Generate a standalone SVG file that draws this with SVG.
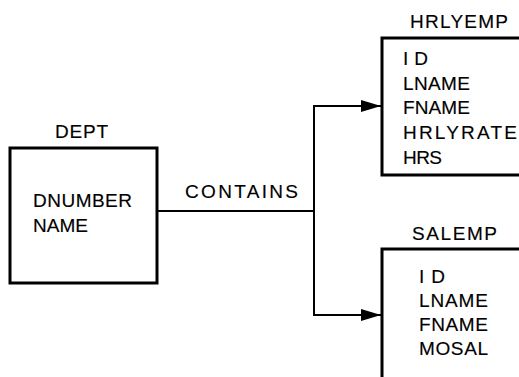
<svg xmlns="http://www.w3.org/2000/svg" width="519" height="377" viewBox="0 0 519 377">
<style>
text{font-family:"Liberation Sans",Arial,sans-serif;font-size:19px;fill:#000;stroke:#000;stroke-width:0.15}
.box{fill:#fff;stroke:#000;stroke-width:3}
.conn{fill:none;stroke:#000;stroke-width:2}
</style>
<defs>
<marker id="arr" markerUnits="userSpaceOnUse" markerWidth="22" markerHeight="14" refX="20" refY="7" orient="auto">
<path d="M0,1 L20,7 L0,13 Z" fill="#000"/>
</marker>
</defs>
<rect width="519" height="377" fill="#fff"/>
<g id="connectors">
<path class="conn" d="M157,211 H314"/>
<path class="conn" d="M314,211 V106 H381" marker-end="url(#arr)"/>
<path class="conn" d="M314,211 V315 H381" marker-end="url(#arr)"/>
<text x="185" y="198" textLength="113" lengthAdjust="spacing">CONTAINS</text>
</g>
<g id="dept">
<rect class="box" x="10" y="148" width="147" height="135"/>
<text x="55" y="138" textLength="53" lengthAdjust="spacing">DEPT</text>
<text x="33" y="207" textLength="99" lengthAdjust="spacing">DNUMBER</text>
<text x="33" y="232" textLength="55" lengthAdjust="spacing">NAME</text>
</g>
<g id="hrlyemp">
<rect class="box" x="382" y="38" width="150" height="137"/>
<text x="410" y="28" textLength="98" lengthAdjust="spacing">HRLYEMP</text>
<text x="403" y="65" textLength="25" lengthAdjust="spacing">ID</text>
<text x="403" y="90" textLength="67" lengthAdjust="spacing">LNAME</text>
<text x="403" y="114" textLength="67" lengthAdjust="spacing">FNAME</text>
<text x="403" y="139" textLength="114" lengthAdjust="spacing">HRLYRATE</text>
<text x="403" y="164" textLength="39" lengthAdjust="spacing">HRS</text>
</g>
<g id="salemp">
<rect class="box" x="382" y="249" width="150" height="140"/>
<text x="412" y="240" textLength="85" lengthAdjust="spacing">SALEMP</text>
<text x="419" y="283" textLength="26" lengthAdjust="spacing">ID</text>
<text x="419" y="307" textLength="69" lengthAdjust="spacing">LNAME</text>
<text x="419" y="331" textLength="69" lengthAdjust="spacing">FNAME</text>
<text x="419" y="355" textLength="69" lengthAdjust="spacing">MOSAL</text>
</g>
</svg>
